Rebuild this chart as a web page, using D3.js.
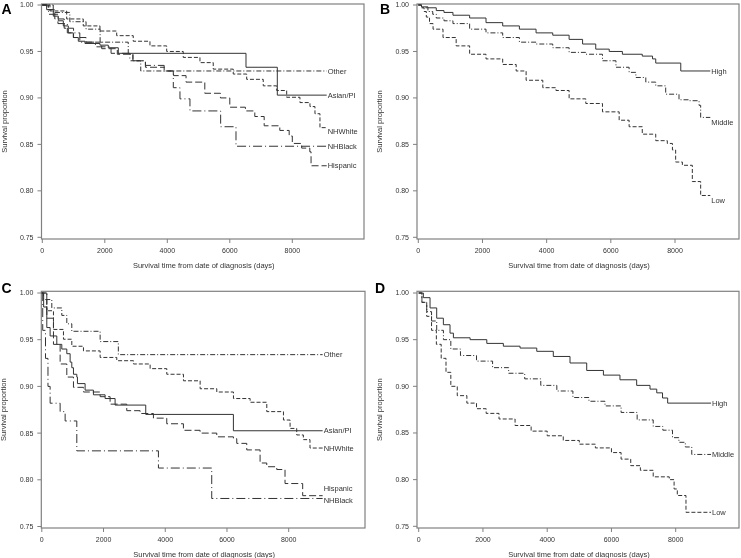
<!DOCTYPE html>
<html><head><meta charset="utf-8">
<script src="https://cdn.jsdelivr.net/npm/d3@7"></script>
<style>body{margin:0;background:#fff}svg{display:block;will-change:transform}text{font-family:"Liberation Sans",Arial,sans-serif}</style>
</head><body><svg id="c" width="741" height="558"></svg>
<script>
// ---------- data ----------
const xTicks = [0, 2000, 4000, 6000, 8000];
const yTicks = [0.75, 0.80, 0.85, 0.90, 0.95, 1.00];
const xTitle = "Survival time from date of diagnosis (days)";
const yTitle = "Survival proportion";
const panelLetters = ["A", "B", "C", "D"];
const raceNames = ["Other", "Asian/PI", "NHWhite", "NHBlack", "Hispanic"];
const incomeNames = ["High", "Middle", "Low"];

// Panel A (race/ethnicity)
const aOther = [[0,1],[350,0.992],[880,0.982],[1400,0.974],[1850,0.96],[2750,0.947],[2900,0.94],[3150,0.929],[9100,0.929]];
const aAsian = [[0,1],[139,0.995],[352,0.988],[512,0.983],[672,0.9775],[832,0.97],[992,0.965],[1152,0.961],[1365,0.9586],[1845,0.9568],[2112,0.954],[2432,0.948],[6518,0.933],[7520,0.903],[9100,0.903]];
const aWhite = [[0,1],[245,0.9936],[780,0.985],[1310,0.9775],[1845,0.972],[2380,0.967],[2910,0.961],[3445,0.956],[3980,0.95],[4510,0.9436],[5045,0.938],[5470,0.931],[6110,0.9257],[6540,0.92],[7070,0.913],[7500,0.908],[7820,0.9007],[8245,0.895],[8565,0.8907],[8725,0.883],[8885,0.868],[9100,0.868]];
const aBlack = [[0,1],[200,0.99],[500,0.98],[800,0.97],[1200,0.96],[1700,0.955],[2200,0.948],[2800,0.94],[3300,0.935],[3900,0.929],[4192,0.911],[4405,0.899],[4725,0.886],[5707,0.869],[6198,0.848],[9100,0.848]];
const aHisp = [[0,1],[150,0.995],[400,0.985],[700,0.975],[1000,0.965],[1400,0.96],[1900,0.953],[2400,0.947],[2900,0.94],[3300,0.933],[3900,0.929],[4200,0.924],[4600,0.917],[5200,0.905],[5700,0.9],[6000,0.89],[6500,0.886],[6800,0.88],[7100,0.87],[7600,0.865],[7900,0.859],[8000,0.851],[8300,0.846],[8560,0.842],[8600,0.827],[9100,0.827]];

// Panel B (income)
const bHigh = [[0,1],[100,0.998],[300,0.997],[560,0.994],[800,0.992],[1080,0.989],[1600,0.986],[2110,0.981],[2630,0.9775],[3150,0.974],[3670,0.97],[4190,0.9675],[4700,0.963],[5120,0.958],[5530,0.9525],[5950,0.95],[6360,0.947],[6980,0.945],[7300,0.942],[7400,0.9375],[8180,0.929],[9100,0.929]];
const bMiddle = [[0,1],[100,0.997],[300,0.993],[450,0.99],[560,0.986],[800,0.983],[1080,0.98],[1600,0.974],[2110,0.97],[2630,0.965],[3150,0.96],[3670,0.958],[4190,0.954],[4700,0.949],[5220,0.947],[5740,0.94],[6160,0.933],[6570,0.9275],[6780,0.922],[7090,0.917],[7400,0.913],[7710,0.904],[8125,0.898],[8440,0.897],[8750,0.892],[8800,0.879],[9100,0.879]];
const bLow = [[0,1],[100,0.997],[180,0.993],[250,0.987],[350,0.98],[460,0.974],[770,0.965],[1180,0.956],[1600,0.947],[2110,0.942],[2630,0.936],[3050,0.929],[3360,0.919],[3880,0.911],[4290,0.908],[4700,0.899],[5220,0.894],[5740,0.885],[6260,0.876],[6570,0.869],[6980,0.861],[7400,0.854],[7760,0.851],[7920,0.844],[8020,0.831],[8230,0.8275],[8540,0.81],[8800,0.795],[9100,0.795]];

// Panel C (race/ethnicity)
const cOther = [[0,1],[54,0.993],[324,0.984],[648,0.976],[810,0.967],[972,0.959],[1890,0.948],[2480,0.934],[9100,0.934]];
const cAsian = [[0,1],[60,0.985],[162,0.963],[270,0.954],[486,0.945],[648,0.94],[810,0.935],[918,0.926],[972,0.92],[1026,0.913],[1134,0.91],[1155,0.903],[1403,0.896],[1673,0.891],[2051,0.887],[2375,0.88],[3368,0.87],[6208,0.8525],[9100,0.8525]];
const cWhite = [[0,1],[162,0.981],[378,0.961],[702,0.9505],[972,0.943],[1350,0.938],[1890,0.931],[2430,0.9275],[2970,0.924],[3510,0.919],[4050,0.913],[4590,0.906],[5130,0.8975],[5670,0.894],[6210,0.887],[6750,0.883],[7290,0.873],[7830,0.864],[8045,0.855],[8260,0.848],[8475,0.843],[8690,0.834],[9100,0.834]];
const cBlack = [[0,1],[30,0.96],[120,0.93],[200,0.9],[270,0.882],[594,0.873],[756,0.863],[1134,0.831],[3779,0.8126],[5506,0.78],[9100,0.78]];
const cHisp = [[0,1],[162,0.973],[378,0.945],[594,0.924],[810,0.91],[1026,0.899],[1350,0.894],[1890,0.889],[2213,0.881],[2753,0.874],[3185,0.871],[3617,0.866],[4049,0.86],[4589,0.853],[5129,0.85],[5669,0.846],[6209,0.844],[6317,0.839],[6641,0.832],[7073,0.818],[7289,0.814],[7613,0.811],[7881,0.796],[8453,0.783],[9100,0.783]];

// Panel D (income)
const dHigh = [[0,1],[145,0.995],[353,0.984],[560,0.973],[768,0.966],[975,0.957],[1080,0.952],[1600,0.95],[2120,0.946],[2635,0.943],[3155,0.941],[3675,0.9375],[4190,0.932],[4710,0.925],[5230,0.917],[5750,0.912],[6265,0.907],[6785,0.901],[7200,0.897],[7410,0.893],[7590,0.8875],[7750,0.882],[9100,0.882]];
const dMiddle = [[0,1],[100,0.99],[250,0.98],[400,0.97],[560,0.96],[770,0.95],[1000,0.94],[1300,0.933],[1800,0.927],[2300,0.92],[2800,0.914],[3300,0.908],[3800,0.901],[4300,0.895],[4800,0.888],[5300,0.884],[5800,0.879],[6300,0.872],[6800,0.864],[7300,0.857],[7600,0.853],[7900,0.845],[8100,0.84],[8300,0.835],[8500,0.827],[9100,0.827]];
const dLow = [[0,1],[100,0.99],[250,0.975],[400,0.96],[550,0.945],[700,0.93],[850,0.915],[1000,0.9],[1200,0.89],[1500,0.882],[1800,0.876],[2100,0.871],[2500,0.865],[3000,0.858],[3500,0.852],[4000,0.847],[4500,0.842],[5000,0.838],[5500,0.834],[6000,0.829],[6300,0.822],[6600,0.815],[6900,0.81],[7300,0.803],[7800,0.8],[7950,0.79],[8050,0.783],[8320,0.765],[9100,0.765]];

// ---------- styles / layout ----------
const dashes = {
  "Other": "5,2,1,2", "Asian/PI": null, "NHWhite": "4,2", "NHBlack": "9,3,1,3", "Hispanic": "7,3",
  "High": null, "Middle": "5,2,1,2", "Low": "4,2"
};
const panels = [
  {letter: panelLetters[0], names: raceNames, data: [aOther, aAsian, aWhite, aBlack, aHisp], labelDy: [0,0,4,0,0],
   L: 41.5, R: 364, T: 4, B: 239, x0: 42.3, x8: 292.3, y1: 5, y75: 237.3, lx: 1.5, ly: 14},
  {letter: panelLetters[1], names: incomeNames, data: [bHigh, bMiddle, bLow], labelDy: [0,5,5],
   L: 417, R: 739, T: 4, B: 239, x0: 418.3, x8: 675, y1: 5, y75: 237.3, lx: 380, ly: 14},
  {letter: panelLetters[2], names: raceNames, data: [cOther, cAsian, cWhite, cBlack, cHisp], labelDy: [0,0,0,2,-7],
   L: 41.3, R: 365, T: 291.3, B: 528, x0: 41.8, x8: 288.7, y1: 293, y75: 526.5, lx: 1.5, ly: 293},
  {letter: panelLetters[3], names: incomeNames, data: [dHigh, dMiddle, dLow], labelDy: [0,0,0],
   L: 417, R: 739, T: 291.3, B: 528, x0: 418.7, x8: 675.7, y1: 293, y75: 526.3, lx: 375, ly: 293}
];

const svg = d3.select("#c");
const lineCol = "#333", frameCol = "#808080", textCol = "#333";

panels.forEach(p => {
  const g = svg.append("g");
  const x = d3.scaleLinear().domain([0, 8000]).range([p.x0, p.x8]);
  const y = d3.scaleLinear().domain([0.75, 1.0]).range([p.y75, p.y1]);

  g.append("rect").attr("x", p.L).attr("y", p.T).attr("width", p.R - p.L).attr("height", p.B - p.T)
    .attr("fill", "none").attr("stroke", frameCol).attr("stroke-width", 1.2);

  yTicks.forEach(t => {
    g.append("line").attr("x1", p.L - 4).attr("x2", p.L).attr("y1", y(t)).attr("y2", y(t))
      .attr("stroke", frameCol).attr("stroke-width", 1);
    g.append("text").attr("x", p.L - 8).attr("y", y(t)).attr("dy", "0.35em").attr("text-anchor", "end")
      .attr("font-size", 7).attr("fill", textCol).text(t.toFixed(2));
  });
  xTicks.forEach(t => {
    g.append("line").attr("x1", x(t)).attr("x2", x(t)).attr("y1", p.B).attr("y2", p.B + 4)
      .attr("stroke", frameCol).attr("stroke-width", 1);
    g.append("text").attr("x", x(t)).attr("y", p.B + 14).attr("text-anchor", "middle")
      .attr("font-size", 7).attr("fill", textCol).text(t);
  });
  g.append("text").attr("x", (p.L + p.R) / 2 + 1).attr("y", p.B + 29).attr("text-anchor", "middle")
    .attr("font-size", 7.5).attr("fill", textCol).text(xTitle);
  g.append("text").attr("transform", `translate(${p.L - 35},${(p.T + p.B) / 2}) rotate(-90)`)
    .attr("text-anchor", "middle").attr("font-size", 7.5).attr("fill", textCol).text(yTitle);
  g.append("text").attr("x", p.lx).attr("y", p.ly).attr("font-size", 14).attr("font-weight", "bold")
    .attr("fill", "#000").text(p.letter);

  const line = d3.line().x(d => x(d[0])).y(d => y(d[1])).curve(d3.curveStepAfter);
  p.data.forEach((ser, i) => {
    const name = p.names[i];
    g.append("path").attr("d", line(ser)).attr("fill", "none").attr("stroke", lineCol)
      .attr("stroke-width", 1).attr("stroke-dasharray", dashes[name]);
    const last = ser[ser.length - 1];
    g.append("text").attr("x", x(last[0]) + 1).attr("y", y(last[1]) + p.labelDy[i]).attr("dy", "0.35em")
      .attr("font-size", 7.5).attr("fill", textCol).text(name);
  });
});
</script></body></html>
